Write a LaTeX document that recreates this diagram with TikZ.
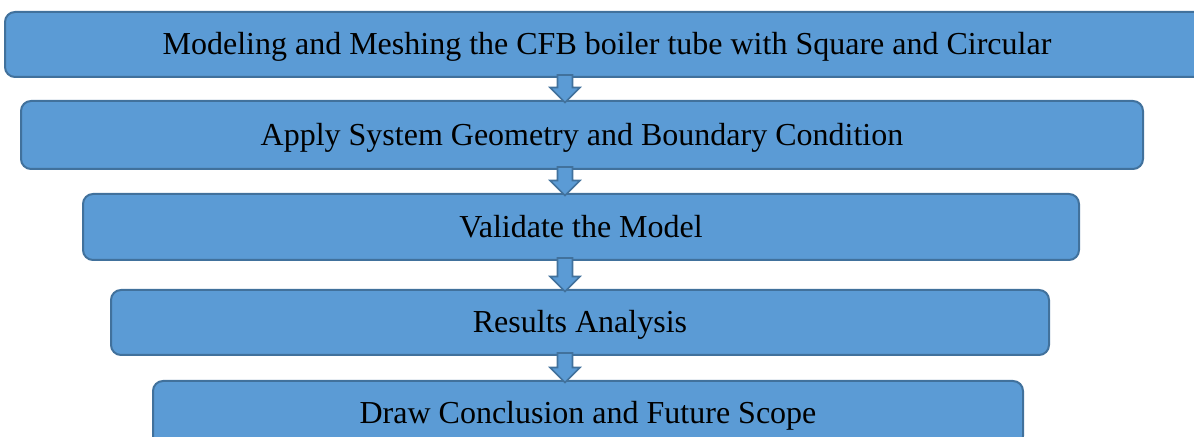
\documentclass[tikz,border=0pt]{standalone}
\usepackage{fontspec}
\setmainfont{Liberation Serif}
\usetikzlibrary{calc}

\definecolor{boxblue}{HTML}{5B9BD5}
\definecolor{boxedge}{HTML}{41719C}

\begin{document}
\begin{tikzpicture}[x=0.5pt, y=-0.5pt,
    step box/.style={rectangle, rounded corners=5pt, draw=boxedge, line width=1pt,
                     fill=boxblue, font=\fontsize{16}{19}\selectfont, inner sep=0pt,
                     text depth=1.5pt, text height=12pt},
    block arrow/.style={fill=boxblue, draw=boxedge, line width=0.8pt, line join=miter,
      to path={let \p1=(\tikztostart), \p2=(\tikztotarget) in
        (\x1-3.75pt,\y1+1.5pt) -- (\x1-3.75pt,\y2+6.25pt) -- (\x1-7.5pt,\y2+6.25pt)
        -- (\x1,\y2-1.25pt) -- (\x1+7.5pt,\y2+6.25pt) -- (\x1+3.75pt,\y2+6.25pt)
        -- (\x1+3.75pt,\y1+1.5pt) -- cycle}}]

  \useasboundingbox (0,0) rectangle (1194,437);
  \clip (0,0) rectangle (1194,437);

  \node[step box, minimum width=602pt, minimum height=32.5pt] (b1) at (607,44.5)
    {Modeling and Meshing the CFB boiler tube with Square and Circular};
  \node[step box, minimum width=561pt, minimum height=34pt] (b2) at (582,135)
    {Apply System Geometry and Boundary Condition};
  \node[step box, minimum width=498pt, minimum height=33pt] (b3) at (581,227)
    {Validate the Model};
  \node[step box, minimum width=469pt, minimum height=32.5pt] (b4) at (580,322.5)
    {Results Analysis};
  \node[step box, minimum width=435pt, minimum height=32.5pt] (b5) at (588,413.5)
    {Draw Conclusion and Future Scope};

  % arrows between the steps
  \coordinate (ax) at (565,0);
  \foreach \u/\v in {b1/b2, b2/b3, b3/b4, b4/b5}
    \draw[block arrow] (\u.south -| ax) to (\v.north -| ax);
\end{tikzpicture}
\end{document}
